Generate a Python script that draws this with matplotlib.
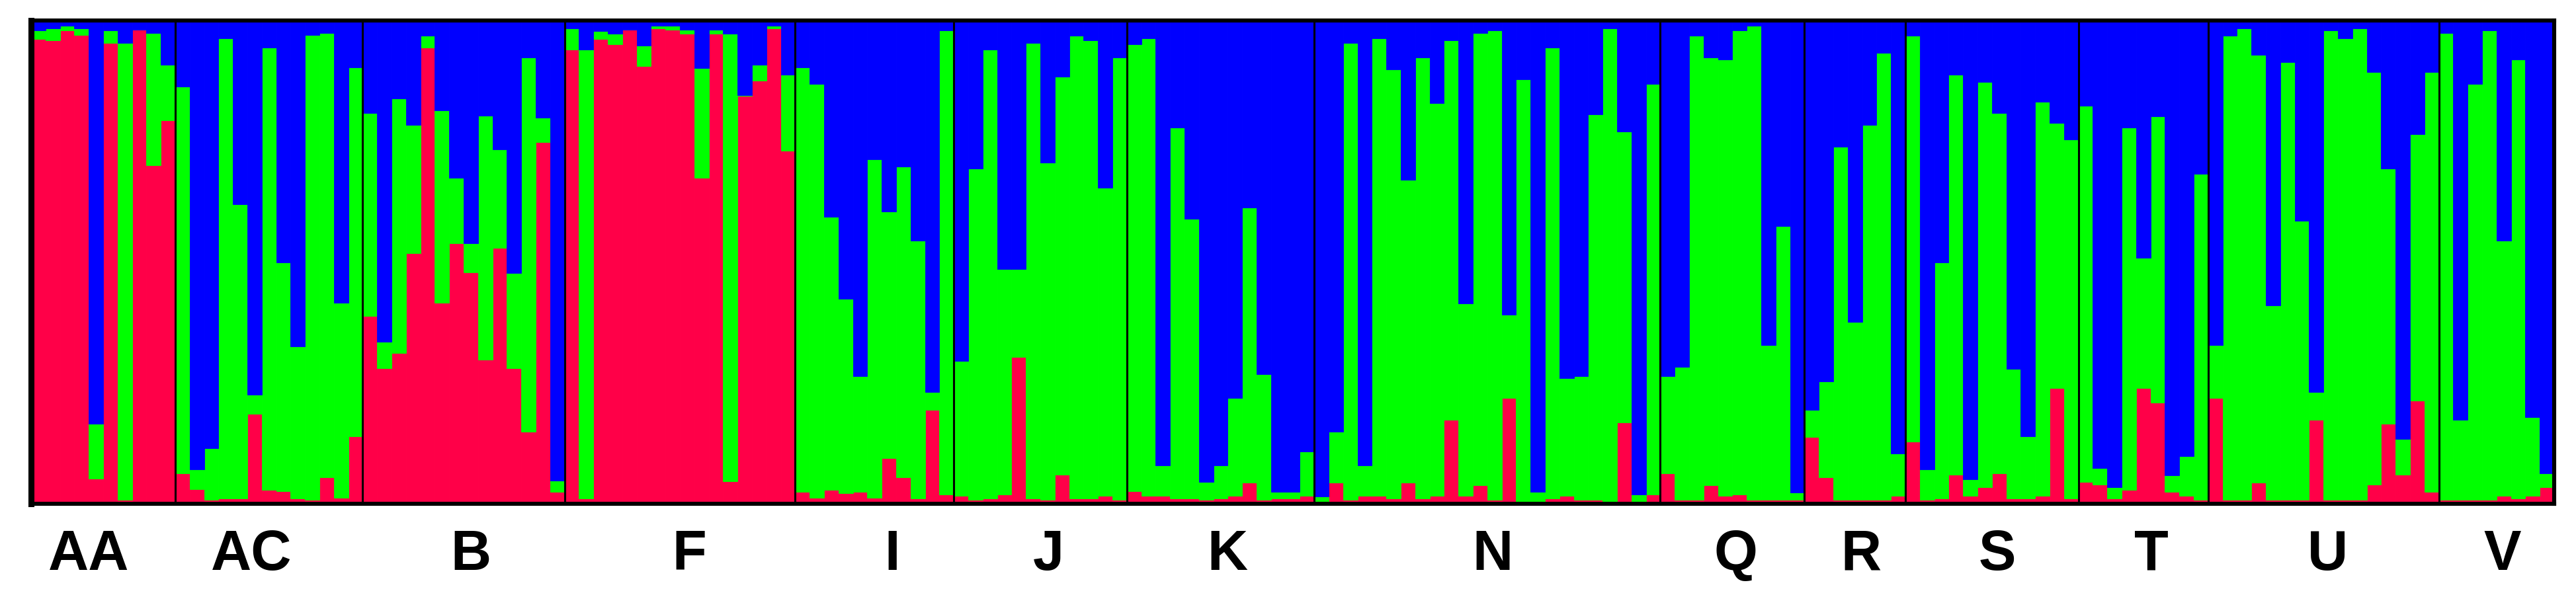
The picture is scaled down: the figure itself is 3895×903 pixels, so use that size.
import numpy as np
import matplotlib
matplotlib.use("Agg")
import matplotlib.pyplot as plt
import matplotlib.transforms as mtransforms

groups = ["AA", "AC", "B", "F", "I", "J", "K", "N", "Q", "R", "S", "T", "U", "V"]
group_sizes = [10, 13, 14, 16, 11, 12, 13, 24, 10, 7, 12, 9, 16, 8]
# label positions (in individual units along the x axis)
label_pos = [4.0, 15.3, 30.5, 45.65, 59.74, 70.57, 82.96, 101.36, 118.24, 126.91, 136.37, 147.05, 159.3, 171.4]

red = [
    # AA
    .961, .959, .979, .970, .052, .953, .009, .980, .700, .793,
    # AC
    .064, .030, .009, .012, .012, .186, .029, .027, .012, .009, .055, .013, .140,
    # B
    .389, .280, .312, .519, .943, .416, .539, .479, .298, .529, .280, .149, .748, .025,
    # F
    .939, .012, .961, .950, .980, .905, .983, .981, .972, .674, .972, .047, .843, .875, .983, .730,
    # I
    .025, .013, .029, .022, .025, .013, .095, .055, .012, .194, .019,
    # J
    .017, .009, .012, .020, .304, .012, .009, .060, .012, .012, .017, .009,
    # K
    .027, .017, .017, .012, .012, .009, .012, .017, .044, .009, .012, .012, .017,
    # N
    .005, .044, .009, .017, .017, .012, .044, .012, .017, .174, .017, .039,
    .009, .219, .005, .005, .011, .017, .009, .009, .002, .169, .005, .020,
    # Q
    .064, .009, .009, .039, .017, .019, .009, .009, .009, .009,
    # R
    .139, .055, .009, .009, .009, .009, .017,
    # S
    .129, .009, .011, .060, .017, .035, .064, .012, .012, .017, .239, .011,
    # T
    .045, .040, .011, .029, .239, .209, .025, .017, .009,
    # U
    .219, .009, .009, .044, .009, .009, .009, .174, .009, .009, .009, .040, .166, .060, .214, .025,
    # V
    .009, .009, .009, .009, .017, .012, .017, .035,
]

green = [
    # AA
    .018, .024, .010, .013, .114, .026, .944, .001, .273, .115,
    # AC
    .799, .041, .106, .951, .607, .040, .914, .472, .314, .961, .918, .403, .763,
    # B
    .419, .056, .526, .265, .025, .397, .135, .060, .505, .204, .198, .774, .050, .024,
    # F
    .044, .927, .016, .022, .001, .043, .005, .007, .008, .227, .009, .925, .002, .033, .005, .158,
    # I
    .878, .855, .565, .402, .239, .700, .510, .643, .533, .037, .960,
    # J
    .279, .684, .927, .466, .182, .941, .696, .823, .956, .946, .637, .914,
    # K
    .923, .946, .063, .766, .577, .036, .068, .202, .569, .260, .013, .013, .092,
    # N
    .010, .105, .944, .063, .946, .887, .626, .911, .811, .784, .397, .934,
    .970, .172, .873, .020, .932, .243, .255, .796, .981, .601, .015, .848,
    # Q
    .200, .275, .959, .884, .902, .960, .980, .320, .565, .015,
    # R
    .055, .199, .729, .367, .775, .924, .087,
    # S
    .839, .062, .488, .828, .034, .838, .744, .267, .128, .815, .549, .743,
    # T
    .778, .035, .024, .749, .270, .592, .034, .082, .674,
    # U
    .110, .959, .974, .885, .402, .904, .576, .057, .970, .954, .974, .853, .527, .074, .550, .868,
    # V
    .964, .165, .859, .970, .528, .907, .162, .029,
]

RED_C = "#FF0048"
GREEN_C = "#00FF00"
BLUE_C = "#0000FF"

red = np.array(red)
green = np.array(green)
blue = 1.0 - red - green
n = len(red)
x = np.arange(n)

fig = plt.figure(figsize=(38.95, 9.04), dpi=100)
ax = fig.add_axes([47 / 3895, (904 - 763.4) / 904, (3862 - 47) / 3895, (763.4 - 31.6) / 904])

kw = dict(width=1.0, align="edge", linewidth=0.6)
ax.bar(x, red, color=RED_C, edgecolor=RED_C, **kw)
ax.bar(x, green, bottom=red, color=GREEN_C, edgecolor=GREEN_C, **kw)
ax.bar(x, blue, bottom=red + green, color=BLUE_C, edgecolor=BLUE_C, **kw)

bounds = np.cumsum(group_sizes)[:-1]
for b in bounds:
    ax.axvline(b, color="black", linewidth=2.2, zorder=5)

ax.set_xlim(0, n)
ax.set_ylim(0, 1)
ax.set_xticks([])
ax.set_yticks([])
for sp in ax.spines.values():
    sp.set_linewidth(4.4)
    sp.set_color("black")
    sp.set_zorder(6)
ax.spines["left"].set_linewidth(6.5)

trans = mtransforms.blended_transform_factory(ax.transData, ax.transAxes)
for name, pos in zip(groups, label_pos):
    ax.text(pos, -0.1347, name, transform=trans, ha="center", va="baseline",
            fontsize=61, fontweight="bold", family=["Liberation Sans", "DejaVu Sans"])

fig.savefig("out.png", dpi=100)
